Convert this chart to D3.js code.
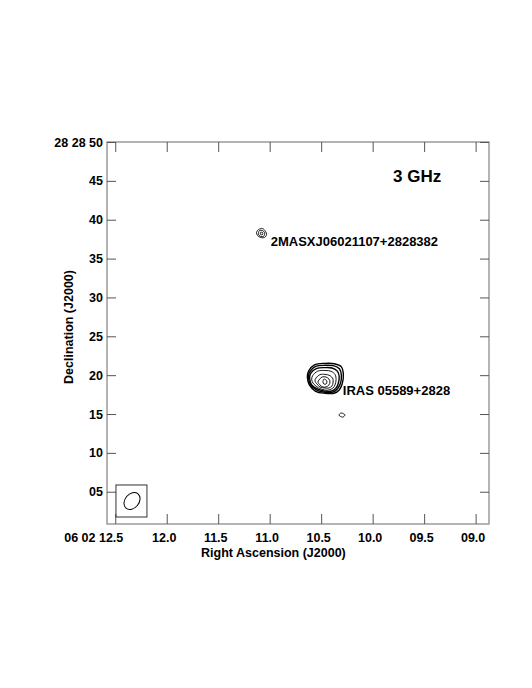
<!DOCTYPE html>
<html>
<head>
<meta charset="utf-8">
<script src="https://cdn.jsdelivr.net/npm/d3@7"></script>
<style>
  body { margin: 0; background: #fff; }
  text { font-family: "Liberation Sans", Arial, sans-serif; font-weight: bold; fill: #000; }
</style>
</head>
<body>
<svg id="chart" width="532" height="688"></svg>
<script>
// Tick positions (RA in seconds of 06h02m, Dec in arcsec of +28d28m)
var raTicks = [12.5, 12.0, 11.5, 11.0, 10.5, 10.0, 9.5, 9.0];
var raTickLabels = ['06 02 12.5', '12.0', '11.5', '11.0', '10.5', '10.0', '09.5', '09.0'];
var decTicks = [50, 45, 40, 35, 30, 25, 20, 15, 10, 5];
var decTickLabels = ['28 28 50', '45', '40', '35', '30', '25', '20', '15', '10', '05'];

// Sources: position and label
var sourceNames = ['2MASXJ06021107+2828382', 'IRAS 05589+2828', ''];
var sourceRA = [11.079, 10.463, 10.298];
var sourceDec = [38.23, 19.12, 14.87];
var labelRA = [10.99, 10.29, null];
var labelDec = [36.6, 17.4, null];

// Contour rings per source, offsets [east, north] in arcsec, outer to inner
var contours2MASS = [
  [[0.64,0.13],[0.38,0.51],[-0.13,0.64],[-0.51,0.26],[-0.64,-0.13],[-0.38,-0.51],[0.13,-0.51],[0.51,-0.26]],
  [[0.38,0.13],[0.26,0.38],[-0.13,0.38],[-0.38,0.13],[-0.38,-0.13],[-0.26,-0.38],[0.13,-0.38],[0.38,-0.13]],
  [[0.13,0.13],[-0.13,0.13],[-0.13,-0.13],[0.13,-0.13]]
];
var contoursIRAS = [
  [[2.10,1.40],[1.35,2.20],[0,2.40],[-1.20,2.35],[-2.10,1.95],[-2.35,1.00],[-2.20,-0.26],[-1.80,-1.05],[-1.15,-1.45],[0,-1.45],[1.20,-1.20],[1.98,-0.40],[2.25,0.55]],
  [[1.98,1.25],[1.20,2.00],[0,2.15],[-1.05,2.10],[-1.85,1.70],[-2.10,0.85],[-1.95,-0.26],[-1.56,-0.92],[-1.02,-1.30],[0,-1.32],[1.05,-1.06],[1.84,-0.38],[2.10,0.52]],
  [[1.84,1.10],[1.05,1.75],[0,1.85],[-0.90,1.80],[-1.58,1.40],[-1.82,0.70],[-1.68,-0.26],[-1.42,-0.78],[-0.90,-1.16],[0,-1.18],[0.92,-0.92],[1.70,-0.38],[1.96,0.42]],
  [[1.58,0.82],[0.92,1.40],[0,1.48],[-0.78,1.38],[-1.30,0.95],[-1.42,0.30],[-1.28,-0.38],[-1.02,-0.78],[-0.51,-1.02],[0,-1.04],[0.78,-0.78],[1.44,-0.26],[1.70,0.28]],
  [[1.15,0.51],[0.64,0.95],[0,0.98],[-0.64,0.82],[-1.02,0.40],[-1.02,-0.13],[-0.90,-0.51],[-0.51,-0.77],[0,-0.77],[0.64,-0.64],[1.02,-0.26],[1.28,0.13]],
  [[0.77,0.26],[0.38,0.64],[-0.13,0.64],[-0.51,0.38],[-0.64,0],[-0.51,-0.38],[-0.13,-0.64],[0.26,-0.64],[0.64,-0.38],[0.90,0]],
  [[0.13,0.38],[-0.13,0.26],[-0.26,0],[-0.13,-0.26],[0.13,-0.26],[0.26,0]]
];
var contoursBlob = [
  [[0.38,0],[0.13,0.26],[-0.26,0.13],[-0.38,0],[-0.13,-0.26],[0.26,-0.13]]
];
var sourceContours = [contours2MASS, contoursIRAS, contoursBlob];

// Synthesized beam (arcsec, degrees) and the box around it
var beamRA = 12.337, beamDec = 3.81;
var beamMajor = 2.4, beamMinor = 1.8, beamPA = -40;
var beamBoxRA = [12.493, 12.192];
var beamBoxDec = [1.75, 5.87];

var freqLabel = '3 GHz';

var APP = {};

APP.main = function(){
  var svg = d3.select('#chart');
  var left = 107, right = 489, top = 142, bottom = 524;

  var x = d3.scaleLinear().domain([12.58, 8.87]).range([left, right]);
  var y = d3.scaleLinear().domain([0.85, 50]).range([bottom, top]);

  // frame
  svg.append('rect')
      .attr('x', left).attr('y', top)
      .attr('width', right - left).attr('height', bottom - top)
      .attr('fill', 'none').attr('stroke', '#8c8c8c').attr('stroke-width', 1.3);

  function styleAxis(g){
    g.select('.domain').remove();
    g.selectAll('.tick line').attr('stroke', '#555').attr('stroke-width', 1);
    g.selectAll('.tick text')
        .attr('font-family', '"Liberation Sans", Arial, sans-serif')
        .attr('font-weight', 'bold')
        .attr('font-size', 12.5)
        .attr('fill', '#000');
  }

  svg.append('g')
      .attr('transform', 'translate(0,' + bottom + ')')
      .call(d3.axisBottom(x).tickValues(raTicks)
        .tickFormat(function(d, i){ return raTickLabels[i]; })
        .tickSize(-10).tickPadding(9))
      .call(styleAxis)
      .selectAll('.tick text').attr('dx', function(d, i){ return i === 0 ? -22 : -3; });

  svg.append('g')
      .attr('transform', 'translate(0,' + top + ')')
      .call(d3.axisTop(x).tickValues(raTicks).tickFormat('').tickSize(-10))
      .call(styleAxis);

  svg.append('g')
      .attr('transform', 'translate(' + left + ',0)')
      .call(d3.axisLeft(y).tickValues(decTicks)
        .tickFormat(function(d, i){ return decTickLabels[i]; })
        .tickSize(-9).tickPadding(4))
      .call(styleAxis);

  svg.append('g')
      .attr('transform', 'translate(' + right + ',0)')
      .call(d3.axisRight(y).tickValues(decTicks).tickFormat('').tickSize(-9))
      .call(styleAxis);

  // axis titles
  svg.append('text')
      .attr('x', (x(12.5) + x(9.0)) / 2 - 22).attr('y', 557)
      .attr('text-anchor', 'middle').attr('font-size', 12.5)
      .text('Right Ascension (J2000)');

  svg.append('text')
      .attr('transform', 'translate(72.5,' + ((top + bottom) / 2 - 6) + ') rotate(-90)')
      .attr('text-anchor', 'middle').attr('font-size', 12.5)
      .text('Declination (J2000)');

  // frequency label
  svg.append('text')
      .attr('x', 393).attr('y', 182)
      .attr('font-size', 17)
      .text(freqLabel);

  // contours: convert arcsec offsets to RA seconds / Dec arcsec
  var line = d3.line().curve(d3.curveCatmullRomClosed.alpha(0.5));
  sourceContours.forEach(function(rings, s){
    var cosd = Math.cos((28 + 28 / 60 + sourceDec[s] / 3600) * Math.PI / 180);
    rings.forEach(function(ring, r){
      var pts = ring.map(function(p){
        return [x(sourceRA[s] + p[0] / (15 * cosd)), y(sourceDec[s] + p[1])];
      });
      svg.append('path')
          .attr('d', line(pts))
          .attr('fill', 'none')
          .attr('stroke', '#000')
          .attr('stroke-width', (s === 1 && r < 3) ? 1.4 : 0.9);
    });
    if (sourceNames[s]) {
      svg.append('text')
          .attr('x', x(labelRA[s])).attr('y', y(labelDec[s]))
          .attr('font-size', 13)
          .text(sourceNames[s]);
    }
  });

  // beam
  svg.append('rect')
      .attr('x', x(beamBoxRA[0])).attr('y', y(beamBoxDec[1]))
      .attr('width', x(beamBoxRA[1]) - x(beamBoxRA[0]))
      .attr('height', y(beamBoxDec[0]) - y(beamBoxDec[1]))
      .attr('fill', 'none').attr('stroke', '#333').attr('stroke-width', 1);

  var pxPerArcsec = y(0) - y(1);
  svg.append('ellipse')
      .attr('cx', 0).attr('cy', 0)
      .attr('rx', beamMinor / 2 * pxPerArcsec)
      .attr('ry', beamMajor / 2 * pxPerArcsec)
      .attr('transform', 'translate(' + x(beamRA) + ',' + y(beamDec) + ') rotate(' + (-beamPA) + ')')
      .attr('fill', 'none').attr('stroke', '#000').attr('stroke-width', 1);
};

APP.main();
</script>
</body>
</html>
